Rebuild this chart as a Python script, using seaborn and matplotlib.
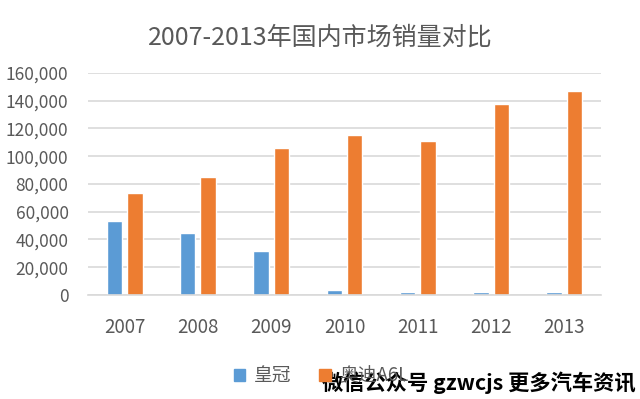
import seaborn as sns
import matplotlib.pyplot as plt
import pandas as pd
from matplotlib.ticker import FuncFormatter

# data
years = ['2007', '2008', '2009', '2010', '2011', '2012', '2013']
crown = [53000, 45000, 32000, 3800, 1800, 1800, 1800]
a6l = [73500, 85000, 105800, 115000, 111200, 137400, 147200]
series_names = ['皇冠', '奥迪A6L']

df = pd.DataFrame({
    'year': years * 2,
    'sales': crown + a6l,
    'model': [series_names[0]] * len(years) + [series_names[1]] * len(years),
})

sns.set_theme(style="whitegrid")
plt.rcParams['font.family'] = ['Noto Sans CJK SC', 'DejaVu Sans']

text_grey = '#595959'
grid_grey = '#d9d9d9'

fig = plt.figure(figsize=(6.4, 3.99), dpi=100)
ax = fig.add_axes([0.1375, 0.2607, 0.8016, 0.5564])

sns.barplot(data=df, x='year', y='sales', hue='model',
            palette=['#5b9bd5', '#ed7d31'], width=0.56, gap=0.25,
            saturation=1, ax=ax, legend=False)

ax.set_ylim(0, 160000)
ax.set_xlim(-0.5, 6.5)
ax.set_yticks(range(0, 160001, 20000))
ax.yaxis.set_major_formatter(FuncFormatter(lambda v, p: f'{int(v):,}'))
ax.grid(axis='y', color=grid_grey, linewidth=1.2)
ax.grid(axis='x', visible=False)
for side in ['left', 'right', 'top']:
    ax.spines[side].set_visible(False)
ax.spines['bottom'].set_color(grid_grey)
ax.spines['bottom'].set_linewidth(1.2)
ax.set_xlabel('')
ax.set_ylabel('')
ax.tick_params(axis='y', labelsize=12.5, labelcolor=text_grey, pad=14, length=0)
ax.tick_params(axis='x', labelsize=13.5, labelcolor=text_grey, pad=16, length=0)

fig.text(0.5, 0.905, '2007-2013年国内市场销量对比', ha='center', va='center',
         fontsize=18, color=text_grey)

handles = [plt.Rectangle((0, 0), 1, 1, color=c) for c in ['#5b9bd5', '#ed7d31']]
fig.legend(handles, series_names, loc='center', bbox_to_anchor=(0.502, 0.058),
           ncol=2, frameon=False, fontsize=13.5, labelcolor=text_grey,
           handlelength=0.6, handleheight=0.6, handletextpad=0.45,
           columnspacing=1.5)

# watermark in the bottom right corner
fig.text(0.993, 0.04, '微信公众号 gzwcjs 更多汽车资讯', ha='right', va='center',
         fontsize=15.3, fontweight='bold', color='black')

plt.savefig('out.png', dpi=100)
